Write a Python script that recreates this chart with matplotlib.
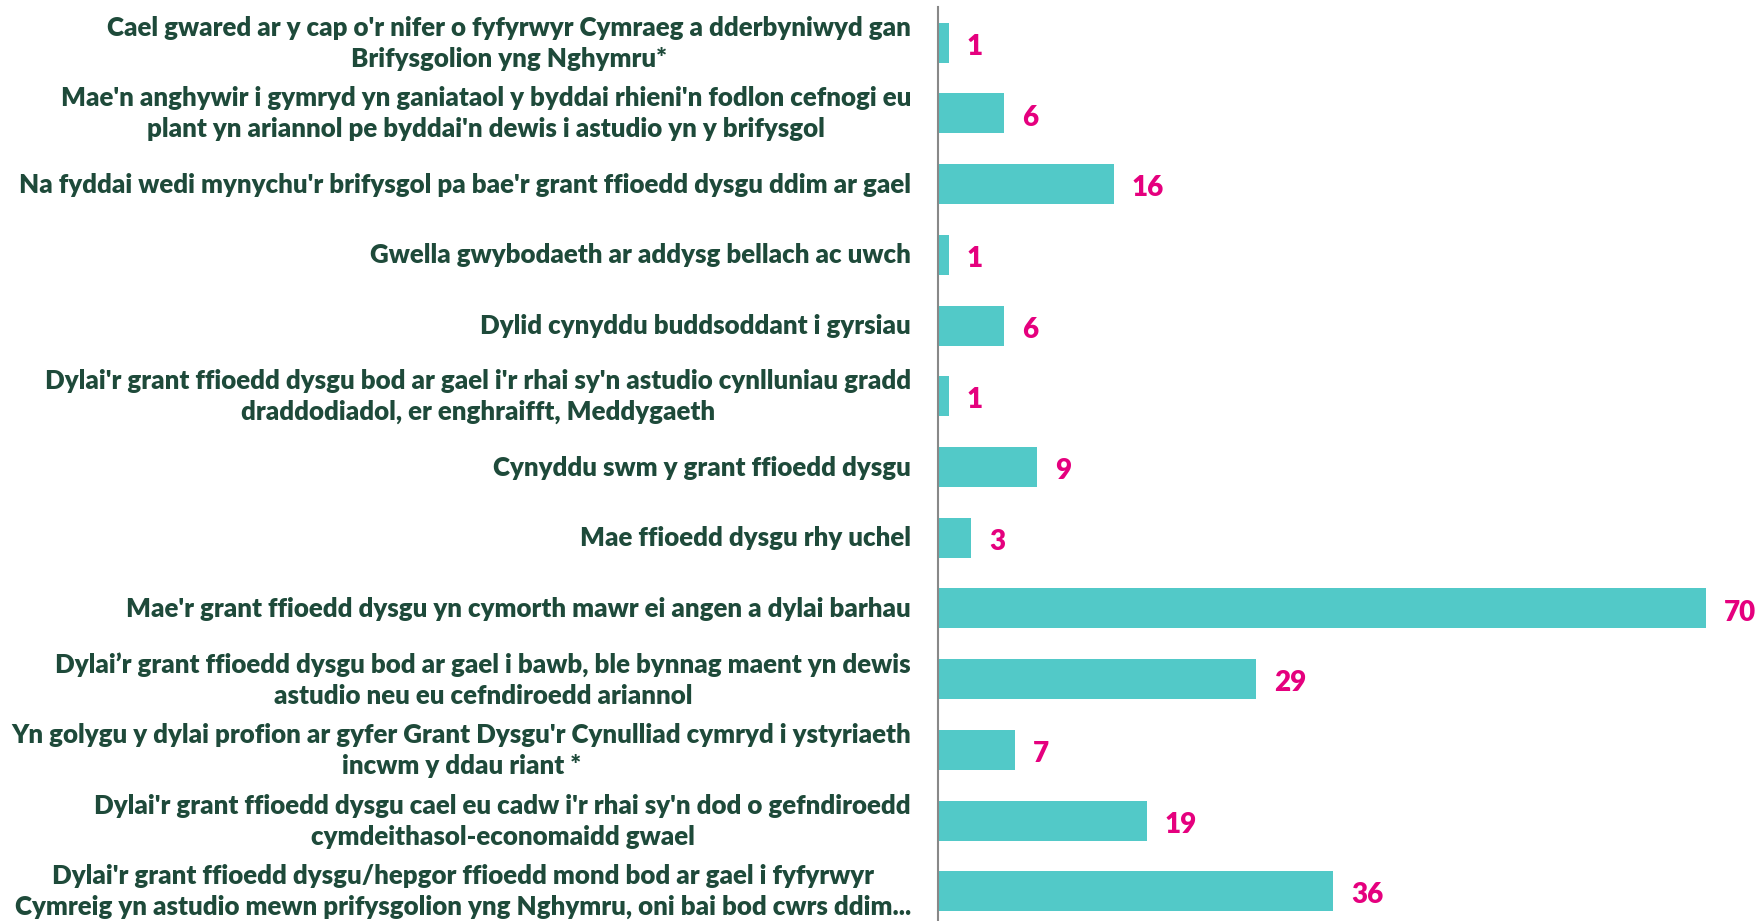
import matplotlib
matplotlib.use("Agg")
import matplotlib.pyplot as plt
import matplotlib.transforms as mtransforms
import numpy as np

# categories, top to bottom
labels = [
    "Cael gwared ar y cap o'r nifer o fyfyrwyr Cymraeg a dderbyniwyd gan\nBrifysgolion yng Nghymru*",
    "Mae'n anghywir i gymryd yn ganiataol y byddai rhieni'n fodlon cefnogi eu\nplant yn ariannol pe byddai'n dewis i astudio yn y brifysgol",
    "Na fyddai wedi mynychu'r brifysgol pa bae'r grant ffioedd dysgu ddim ar gael",
    "Gwella gwybodaeth ar addysg bellach ac uwch",
    "Dylid cynyddu buddsoddant i gyrsiau",
    "Dylai'r grant ffioedd dysgu bod ar gael i'r rhai sy'n astudio cynlluniau gradd\ndraddodiadol, er enghraifft, Meddygaeth",
    "Cynyddu swm y grant ffioedd dysgu",
    "Mae ffioedd dysgu rhy uchel",
    "Mae'r grant ffioedd dysgu yn cymorth mawr ei angen a dylai barhau",
    "Dylai\u2019r grant ffioedd dysgu bod ar gael i bawb, ble bynnag maent yn dewis\nastudio neu eu cefndiroedd ariannol",
    "Yn golygu y dylai profion ar gyfer Grant Dysgu'r Cynulliad cymryd i ystyriaeth\nincwm y ddau riant *",
    "Dylai'r grant ffioedd dysgu cael eu cadw i'r rhai sy'n dod o gefndiroedd\ncymdeithasol-economaidd gwael",
    "Dylai'r grant ffioedd dysgu/hepgor ffioedd mond bod ar gael i fyfyrwyr\nCymreig yn astudio mewn prifysgolion yng Nghymru, oni bai bod cwrs ddim...",
]
values = [1, 6, 16, 1, 6, 1, 9, 3, 70, 29, 7, 19, 36]

BAR = "#52c9c8"
PINK = "#e5007e"
TEXT = "#1e4a3a"

plt.rcParams['font.family'] = ['Lato', 'DejaVu Sans']

fig = plt.figure(figsize=(17.6, 9.21), dpi=100)
ax = fig.add_axes([938 / 1760, 0, 1 - 938 / 1760, 1 - 7 / 921])

y = np.arange(len(values))
ax.barh(y, values, height=0.566, color=BAR)

for yi, v in zip(y, values):
    ax.annotate(str(v), (v, yi), xytext=(13, -3), textcoords='offset points',
                ha='left', va='center', color=PINK, fontsize=20, fontweight='heavy')

ax.set_ylim(12.42, -0.505)
ax.set_xlim(0, 74.9)

# category labels drawn as text left of the axis
lab_tr = mtransforms.blended_transform_factory(ax.transAxes, ax.transData) + \
    mtransforms.ScaledTranslation(-27 / 100, -0.5 / 100, fig.dpi_scale_trans)
for yi, lab in zip(y, labels):
    ax.text(0, yi, lab, transform=lab_tr, ha='right', va='center',
            multialignment='center', fontsize=18.6, fontweight='heavy',
            color=TEXT, linespacing=1.35, clip_on=False)

ax.set_yticks([])
ax.set_xticks([])

for s in ['top', 'right', 'bottom']:
    ax.spines[s].set_visible(False)
ax.spines['left'].set_color('#888888')
ax.spines['left'].set_linewidth(1.5)

fig.savefig("out.png", dpi=100)
